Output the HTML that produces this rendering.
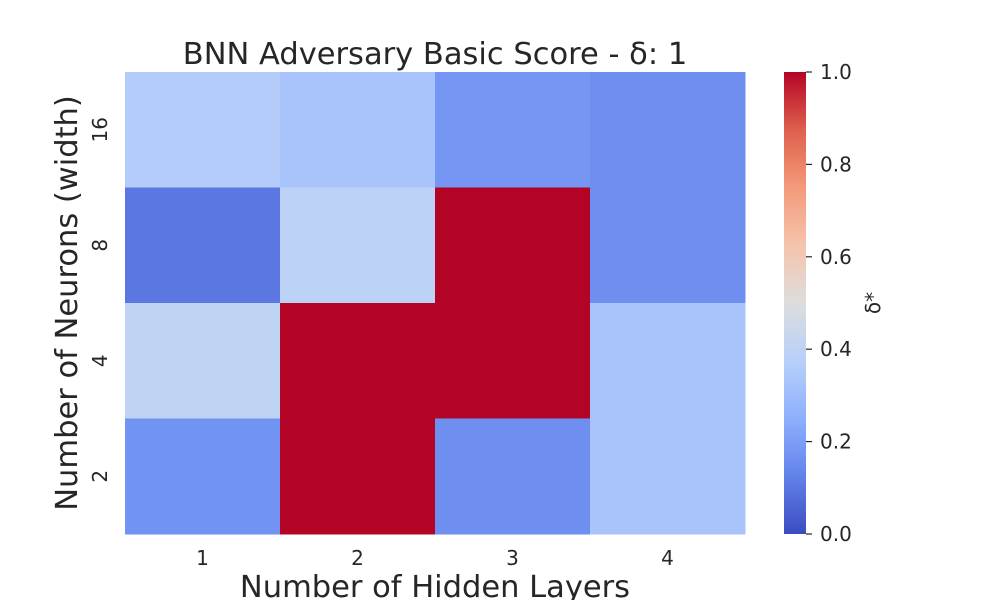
<!DOCTYPE html>
<html><head><meta charset="utf-8"><style>
body{margin:0;background:#fff;}
svg text{font-family:"DejaVu Sans","Liberation Sans",sans-serif;fill:#262626;}
</style></head><body>
<svg id="chart" width="1000" height="600" xmlns="http://www.w3.org/2000/svg">
<defs><linearGradient id="cbgrad" x1="0" y1="1" x2="0" y2="0">
<stop offset="0" stop-color="#3b4cc0"/><stop offset="0.125" stop-color="#6282ea"/>
<stop offset="0.25" stop-color="#8db0fe"/><stop offset="0.375" stop-color="#b8d0f9"/>
<stop offset="0.5" stop-color="#dddddd"/><stop offset="0.625" stop-color="#f5c4ac"/>
<stop offset="0.75" stop-color="#f49a7b"/><stop offset="0.875" stop-color="#de604d"/>
<stop offset="1" stop-color="#b40426"/></linearGradient></defs>
<text x="435" y="64" font-size="30.5" text-anchor="middle">BNN Adversary Basic Score - δ: 1</text>
<g id="cells"></g>
<g id="xticks"></g><g id="yticks"></g>
<text x="435" y="597" font-size="30.5" text-anchor="middle">Number of Hidden Layers</text>
<text transform="translate(77,303) rotate(-90)" font-size="30.5" text-anchor="middle">Number of Neurons (width)</text>
<rect x="784" y="72" width="22" height="462" fill="url(#cbgrad)"/>
<g id="cbticks"></g>
<text transform="translate(880,303) rotate(-90)" font-size="20" text-anchor="middle">δ*</text>
</svg>
<script>
const xCategories=["1","2","3","4"];
const yCategories=["16","8","4","2"];
const row16=[0.36,0.33,0.18,0.16];
const row8=[0.10,0.39,1.0,0.16];
const row4=[0.40,1.0,1.0,0.33];
const row2=[0.17,1.0,0.16,0.33];
const cbTicks=[0,0.2,0.4,0.6,0.8,1.0];
const rows=[row16,row8,row4,row2];
const stops=[[0,[59,76,192]],[0.125,[98,130,234]],[0.25,[141,176,254]],[0.375,[184,208,249]],[0.5,[221,221,221]],[0.625,[245,196,172]],[0.75,[244,154,123]],[0.875,[222,96,77]],[1,[180,4,38]]];
function cmap(v){for(let i=1;i<stops.length;i++){if(v<=stops[i][0]){const a=stops[i-1],b=stops[i],t=(v-a[0])/(b[0]-a[0]);return 'rgb('+a[1].map((c,k)=>Math.round(c+(b[1][k]-c)*t)).join(',')+')';}}return 'rgb(180,4,38)';}
const X0=125,X1=745,Y0=72,Y1=534;
const cw=(X1-X0)/xCategories.length,ch=(Y1-Y0)/yCategories.length;
const xs=i=>X0+i*cw, ys=j=>Y0+j*ch, cy=v=>Y1-v*(Y1-Y0);
const NS="http://www.w3.org/2000/svg";
const cells=document.getElementById('cells');
rows.forEach((r,j)=>r.forEach((v,i)=>{const e=document.createElementNS(NS,'rect');
e.setAttribute('x',xs(i));e.setAttribute('y',ys(j));e.setAttribute('width',cw+0.5);e.setAttribute('height',ch+0.5);e.setAttribute('fill',cmap(v));


cells.appendChild(e);}));
const xt=document.getElementById('xticks');
xCategories.forEach((c,i)=>{const t=document.createElementNS(NS,'text');t.setAttribute('x',xs(i)+cw/2);t.setAttribute('y',565);t.setAttribute('font-size','20');t.setAttribute('text-anchor','middle');t.textContent=c;


xt.appendChild(t);});
const yt=document.getElementById('yticks');
yCategories.forEach((c,j)=>{const t=document.createElementNS(NS,'text');const y=ys(j)+ch/2;t.setAttribute('transform','translate(107,'+y+') rotate(-90)');t.setAttribute('font-size','20');t.setAttribute('text-anchor','middle');t.textContent=c;


yt.appendChild(t);});
const cb=document.getElementById('cbticks');
cbTicks.forEach(v=>{const y=cy(v);const l=document.createElementNS(NS,'line');l.setAttribute('x1',806);l.setAttribute('x2',812);l.setAttribute('y1',y);l.setAttribute('y2',y);l.setAttribute('stroke','#262626');l.setAttribute('stroke-width','1.2');


cb.appendChild(l);
const t=document.createElementNS(NS,'text');t.setAttribute('x',820);t.setAttribute('y',y+7);t.setAttribute('font-size','20');t.textContent=v.toFixed(1);


cb.appendChild(t);});
</script>
</body></html>
